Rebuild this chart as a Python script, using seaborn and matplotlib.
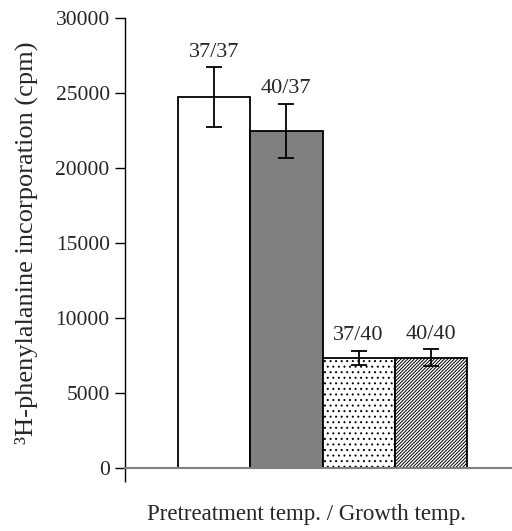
import matplotlib
matplotlib.use("Agg")
import matplotlib.pyplot as plt
import seaborn as sns
import pandas as pd
import numpy as np

groups = ["37/37", "40/37", "37/40", "40/40"]
values = [24700, 22450, 7330, 7330]
errors = [2000, 1800, 470, 550]
fills = ["white", "#808080", "white", "white"]
hatches = ["", "", "...", "//////////"]

sns.set_theme(style="white")
plt.rcParams["font.family"] = ["Liberation Serif", "DejaVu Serif"]
plt.rcParams["hatch.linewidth"] = 0.7

df = pd.DataFrame({"group": groups, "value": values})

fig = plt.figure(figsize=(5.12, 5.31), dpi=100)
ax = fig.add_axes([0.2441, 0.1192, 0.7559, 0.8475])

sns.barplot(data=df, x="group", y="value", order=groups, width=1.0,
            errorbar=None, ax=ax, color="white", saturation=1)

for p, fc, h in zip(ax.patches, fills, hatches):
    p.set_facecolor(fc)
    p.set_edgecolor("black")
    p.set_linewidth(1.3)
    p.set_hatch(h)

x = np.arange(len(groups))
ax.errorbar(x, values, yerr=errors, fmt="none", ecolor="black",
            elinewidth=1.3, capsize=6, capthick=1.3)

for xi, v, e, g in zip(x, values, errors, groups):
    ax.annotate(g, (xi, v + e), xytext=(0, 4), textcoords="offset points",
                ha="center", va="bottom", fontsize=16)

ax.set_xlim(-1.233, 4.122)
ax.set_ylim(0, 30000)
ax.set_yticks(np.arange(0, 30001, 5000))
ax.set_xticks([-1.233])
ax.set_xticklabels([""])
ax.tick_params(axis="x", direction="out", length=10, width=1, color="black", bottom=True)
ax.tick_params(axis="y", direction="out", length=7, width=1, color="black", left=True,
               labelsize=15.5, pad=4)

for s in ["top", "right"]:
    ax.spines[s].set_visible(False)
ax.spines["left"].set_color("black")
ax.spines["left"].set_linewidth(1)
ax.spines["bottom"].set_color("#808080")
ax.spines["bottom"].set_linewidth(1.5)

ax.set_xlabel("Pretreatment temp. / Growth temp.", fontsize=16.5)
ax.xaxis.set_label_coords(0.468, -0.08)
ax.set_ylabel("³H-phenylalanine incorporation (cpm)", fontsize=19)
ax.yaxis.set_label_coords(-0.225, 0.5)

fig.savefig("out.png", dpi=100)
